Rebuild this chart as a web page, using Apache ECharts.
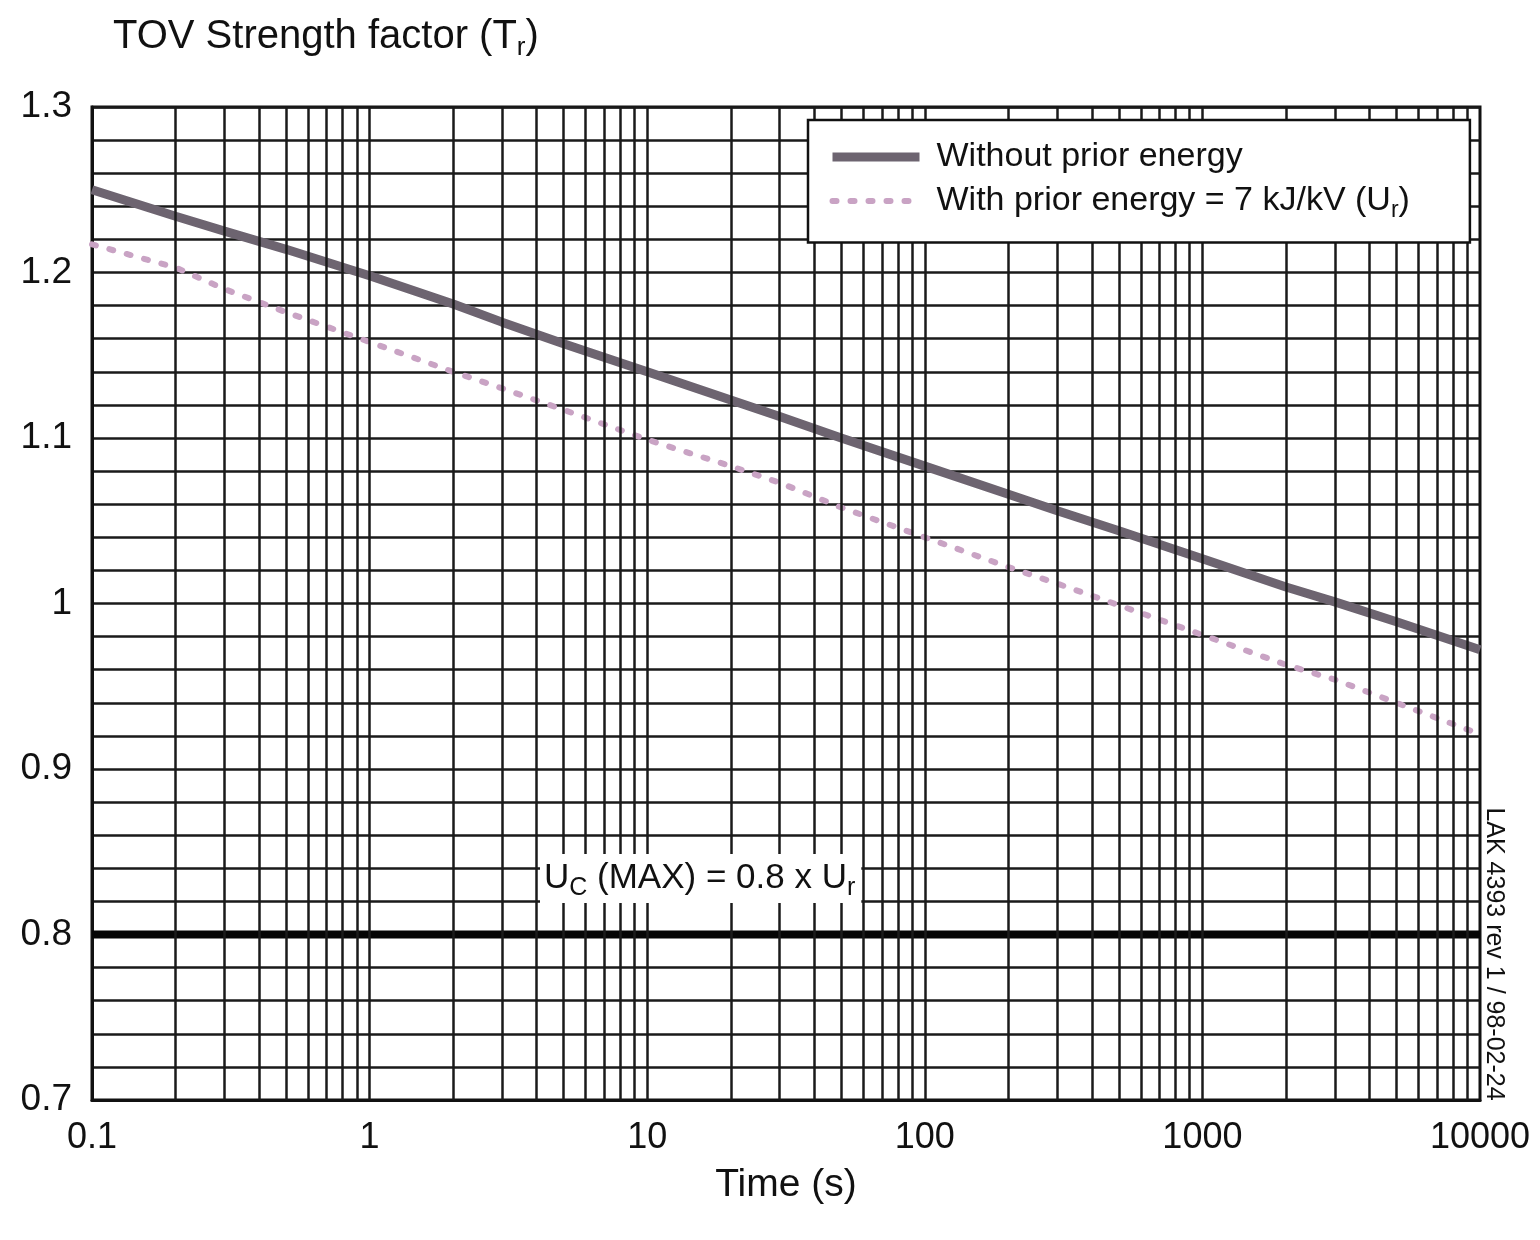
<!DOCTYPE html>
<html>
<head>
<meta charset="utf-8">
<script src="https://cdn.jsdelivr.net/npm/echarts@6/dist/echarts.min.js"></script>
<style>
html,body{margin:0;padding:0;background:#fff;}
#chart{width:1540px;height:1240px;}
</style>
</head>
<body>
<div id="chart"></div>
<script>
// ---- data ----
var times = [0.1, 0.2, 0.3, 0.5, 1, 2, 3, 5, 10, 20, 30, 50, 100, 200, 300, 500, 1000, 2000, 3000, 5000, 10000];
var withoutPrior = [1.250, 1.234, 1.225, 1.214, 1.198, 1.181, 1.170, 1.157, 1.140, 1.123, 1.113, 1.100, 1.083, 1.066, 1.056, 1.044, 1.027, 1.010, 1.001, 0.989, 0.972];
var withPrior = [1.217, 1.203, 1.190, 1.176, 1.158, 1.140, 1.130, 1.117, 1.099, 1.083, 1.073, 1.058, 1.040, 1.022, 1.012, 0.999, 0.981, 0.963, 0.954, 0.940, 0.921];
var ucTimes = [0.1, 10000];
var ucValues = [0.8, 0.8];
var xTickLabels = ['0.1', '1', '10', '100', '1000', '10000'];
var yTickLabels = ['0.7', '0.8', '0.9', '1', '1.1', '1.2', '1.3'];
var decades = [0.1, 1, 10, 100, 1000];
var multipliers = [1, 2, 3, 4, 5, 6, 7, 8, 9];

function pairs(xs, ys) { return xs.map(function (x, i) { return [x, ys[i]]; }); }

var gridLinesX = [];
decades.forEach(function (d) {
  multipliers.forEach(function (m) {
    var v = +(d * m).toPrecision(6);
    if (v > 0.1) gridLinesX.push({ xAxis: v });
  });
});

var FONT = 'Liberation Sans';
var DARK = '#6d6470';
var PINK = '#c9a3c4';
var chart = echarts.init(document.getElementById('chart'), null, { renderer: 'canvas' });

var option = {
  animation: false,
  backgroundColor: '#fff',
  textStyle: { fontFamily: FONT, color: '#111' },
  title: {
    text: 'TOV Strength factor (T{sub|r})',
    left: 108, top: 8,
    textStyle: {
      fontFamily: FONT, fontSize: 40, fontWeight: 'normal', color: '#111',
      rich: { sub: { fontFamily: FONT, fontSize: 26, color: '#111', padding: [22, 0, 0, 0] } }
    }
  },
  grid: {
    left: 92, right: 60, top: 107, bottom: 140,
    show: true, borderColor: '#111', borderWidth: 3, backgroundColor: 'transparent',
    outerBoundsMode: 'none'
  },
  legend: {
    left: 808, top: 120, orient: 'vertical', z: 20,
    padding: [20, 60, 20, 20], itemGap: 10,
    itemWidth: 87, itemHeight: 10,
    backgroundColor: '#fff', borderColor: '#111', borderWidth: 2.5, borderRadius: 0,
    selectedMode: false,
    textStyle: {
      fontFamily: FONT, fontSize: 34, color: '#111', padding: [0, 0, 0, 12],
      rich: { sub: { fontFamily: FONT, fontSize: 23, color: '#111', padding: [20, 0, 0, 0] } }
    },
    formatter: function (name) {
      if (name.indexOf('With prior') === 0) return 'With prior energy = 7 kJ/kV (U{sub|r})';
      return name;
    },
    data: [
      {
        name: 'Without prior energy',
        itemStyle: { opacity: 0 },
        lineStyle: { color: DARK, width: 9, type: 'solid' }
      },
      {
        name: 'With prior energy = 7 kJ/kV (Ur)',
        itemStyle: { opacity: 0 },
        lineStyle: { color: PINK, width: 6, type: [4, 14] }
      }
    ]
  },
  xAxis: {
    type: 'log', logBase: 10, min: 0.1, max: 10000,
    name: 'Time (s)', nameLocation: 'middle', nameGap: 66,
    nameTextStyle: { fontFamily: FONT, fontSize: 39, color: '#111' },
    axisLine: { show: true, lineStyle: { color: '#111', width: 3 } },
    axisTick: { show: false },
    splitLine: { show: false },
    axisLabel: {
      fontFamily: FONT, fontSize: 36, color: '#111', margin: 20,
      formatter: function (v) {
        var s = String(+(+v).toPrecision(6));
        var idx = xTickLabels.indexOf(s);
        return idx >= 0 ? xTickLabels[idx] : '';
      }
    }
  },
  yAxis: {
    type: 'value', min: 0.7, max: 1.3, interval: 0.1,
    axisLine: { show: true, lineStyle: { color: '#111', width: 3 } },
    axisTick: { show: false },
    axisLabel: {
      fontFamily: FONT, fontSize: 37, color: '#111', margin: 20,
      formatter: function (v) {
        var s = String(+(+v).toFixed(2));
        var idx = yTickLabels.indexOf(s);
        return idx >= 0 ? yTickLabels[idx] : s;
      }
    },
    splitLine: { show: true, lineStyle: { color: '#1a1a1a', width: 2.5 } },
    minorTick: { show: false, splitNumber: 5 },
    minorSplitLine: { show: true, lineStyle: { color: '#1a1a1a', width: 2.5 } }
  },
  series: [
    {
      name: 'gridlines', type: 'line', data: [], z: 1, silent: true,
      markLine: {
        silent: true, symbol: ['none', 'none'], animation: false,
        label: { show: false },
        lineStyle: { type: 'solid', color: '#1a1a1a', width: 2.5 },
        emphasis: { disabled: true },
        data: gridLinesX
      }
    },
    {
      name: 'Uc max', type: 'line', data: pairs(ucTimes, ucValues), z: 3,
      showSymbol: false, symbol: 'none', silent: true,
      lineStyle: { color: '#050505', width: 8 }
    },
    {
      name: 'With prior energy = 7 kJ/kV (Ur)', type: 'line', data: pairs(times, withPrior), z: 3,
      showSymbol: false, symbol: 'none', silent: true,
      itemStyle: { color: PINK },
      lineStyle: { color: PINK, width: 6, type: [4, 14], cap: 'round' }
    },
    {
      name: 'Without prior energy', type: 'line', data: pairs(times, withoutPrior), z: 3,
      showSymbol: false, symbol: 'none', silent: true,
      itemStyle: { color: DARK },
      lineStyle: { color: DARK, width: 9 }
    }
  ],
  graphic: [
    {
      type: 'text', left: 540, top: 854, z: 10,
      style: {
        text: '{a|U}{sub|C}{a| (MAX) = 0.8 x U}{sub|r}',
        backgroundColor: '#fff', padding: [2, 6, 2, 4],
        rich: {
          a: { fontFamily: FONT, fontSize: 35, fill: '#111' },
          sub: { fontFamily: FONT, fontSize: 25, fill: '#111', padding: [20, 0, 0, 0] }
        }
      }
    },
    {
      type: 'text', x: 1494, y: 954, rotation: -Math.PI / 2, z: 10,
      style: {
        text: 'LAK 4393 rev 1 / 98-02-24',
        fontFamily: FONT, fontSize: 25, fill: '#111',
        align: 'center', verticalAlign: 'middle'
      }
    }
  ]
};
chart.setOption(option);
</script>
</body>
</html>
